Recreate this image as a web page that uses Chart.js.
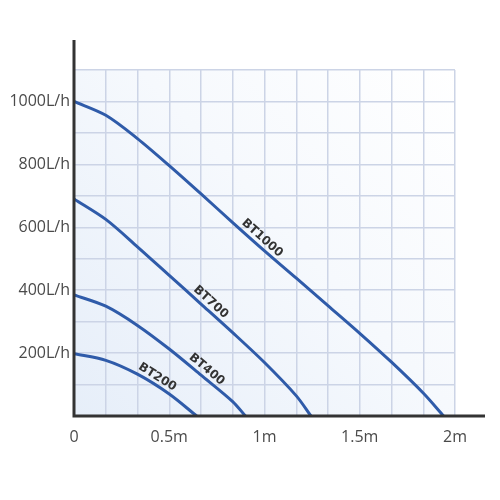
<!DOCTYPE html>
<html>
<head>
<meta charset="utf-8">
<title>BT pump curves</title>
<script src="https://cdn.jsdelivr.net/npm/chart.js@4/dist/chart.umd.min.js"></script>
<style>
  html, body { margin: 0; padding: 0; background: #ffffff; }
  #wrap { width: 500px; height: 500px; }
</style>
</head>
<body>
<div id="wrap"><canvas id="pumpChart" width="500" height="500"></canvas></div>
<script>
// head (m) positions, one array per pump
var seriesNames = ["BT1000", "BT700", "BT400", "BT200"];

var bt1000X = [0, 0.167, 0.333, 0.5, 0.667, 0.833, 1.0, 1.167, 1.333, 1.5, 1.667, 1.833, 1.94];
var bt1000Y = [1000, 956, 882, 796, 706, 615, 525, 438, 351, 263, 171, 73, 0];

var bt700X = [0, 0.167, 0.333, 0.5, 0.667, 0.833, 1.0, 1.167, 1.244];
var bt700Y = [690, 625, 538, 447, 356, 265, 170, 64, 0];

var bt400X = [0, 0.167, 0.333, 0.5, 0.667, 0.833, 0.9];
var bt400Y = [385, 349, 288, 213, 130, 46, 0];

var bt200X = [0, 0.167, 0.333, 0.5, 0.644];
var bt200Y = [198, 177, 133, 70, 0];

// where along each curve (in m) the name sits
var labelAt = [0.96, 0.69, 0.67, 0.415];

var xTickValues = [0, 0.5, 1, 1.5, 2];
var xTickLabels = ["0", "0.5m", "1m", "1.5m", "2m"];
var yTickValues = [200, 400, 600, 800, 1000];
var yTickLabels = ["200L/h", "400L/h", "600L/h", "800L/h", "1000L/h"];

var xMax = 2;
var yMax = 1100;
var lineBlue = "#2f5ba9";

function toPoints(xs, ys) {
  var pts = [];
  for (var i = 0; i < xs.length; i++) {
    pts.push({ x: xs[i], y: ys[i] });
  }
  return pts;
}

var allX = [bt1000X, bt700X, bt400X, bt200X];
var allY = [bt1000Y, bt700Y, bt400Y, bt200Y];

var datasets = seriesNames.map(function(name, i) {
  return {
    label: name,
    data: toPoints(allX[i], allY[i]),
    borderColor: lineBlue,
    borderWidth: 3,
    pointRadius: 0,
    showLine: true,
    fill: false,
    tension: 0.3
  };
});

function findLabel(list, values, v) {
  for (var i = 0; i < values.length; i++) {
    if (Math.abs(values[i] - v) < 1e-6) return list[i];
  }
  return "";
}

// light blue wash behind the grid
var backgroundPlugin = {
  id: "plotBackground",
  beforeDraw: function(chart) {
    var a = chart.chartArea;
    var ctx = chart.ctx;
    var g = ctx.createLinearGradient(a.left, a.bottom, a.right, a.top);
    g.addColorStop(0, "#e6eef9");
    g.addColorStop(0.55, "#f6f9fd");
    g.addColorStop(1, "#ffffff");
    ctx.save();
    ctx.fillStyle = g;
    ctx.fillRect(a.left, a.top, a.right - a.left, a.bottom - a.top);
    ctx.restore();
  }
};

// dark axes that run past the grid, plus the names along the curves
var axesPlugin = {
  id: "axesAndNames",
  afterDatasetsDraw: function(chart) {
    var ctx = chart.ctx;
    var a = chart.chartArea;
    var xs = chart.scales.x;
    var ys = chart.scales.y;

    ctx.save();
    ctx.font = "bold 12px 'DejaVu Sans'";
    ctx.fillStyle = "#333333";
    ctx.textAlign = "center";
    ctx.textBaseline = "middle";
    for (var d = 0; d < seriesNames.length; d++) {
      var xsData = allX[d], ysData = allY[d];
      var target = labelAt[d];
      var k = 0;
      while (k < xsData.length - 2 && xsData[k + 1] < target) k++;
      var x0 = xs.getPixelForValue(xsData[k]), y0 = ys.getPixelForValue(ysData[k]);
      var x1 = xs.getPixelForValue(xsData[k + 1]), y1 = ys.getPixelForValue(ysData[k + 1]);
      var t = (target - xsData[k]) / (xsData[k + 1] - xsData[k]);
      var px = x0 + (x1 - x0) * t;
      var py = y0 + (y1 - y0) * t;
      var ang = Math.atan2(y1 - y0, x1 - x0);
      var off = 8;
      var lx = px + Math.sin(ang) * off;
      var ly = py - Math.cos(ang) * off;
      ctx.save();
      ctx.translate(lx, ly);
      ctx.rotate(ang);
      ctx.fillText(seriesNames[d], 0, 0);
      ctx.restore();
    }
    ctx.restore();

    ctx.save();
    ctx.strokeStyle = "#333333";
    ctx.lineWidth = 3;
    ctx.beginPath();
    ctx.moveTo(a.left, a.top - 30);
    ctx.lineTo(a.left, a.bottom);
    ctx.lineTo(a.right + 30, a.bottom);
    ctx.stroke();
    ctx.restore();
  }
};

var ctx = document.getElementById("pumpChart").getContext("2d");

var pumpChart = new Chart(ctx, {
  type: "scatter",
  data: { datasets: datasets },
  plugins: [backgroundPlugin, axesPlugin],
  options: {
    responsive: false,
    animation: false,
    layout: { padding: { top: 70, right: 45, left: 0, bottom: 0 } },
    plugins: {
      legend: { display: false },
      tooltip: { enabled: false }
    },
    scales: {
      x: {
        type: "linear",
        min: 0,
        max: xMax,
        afterBuildTicks: function(scale) {
          var ticks = [];
          for (var k = 0; k <= 12; k++) ticks.push({ value: k / 6 });
          scale.ticks = ticks;
        },
        afterFit: function(scale) { scale.height = 84; },
        grid: { color: "#ccd4e6", lineWidth: 1.5, drawTicks: false },
        border: { display: false },
        ticks: {
          autoSkip: false,
          maxRotation: 0,
          padding: 12,
          color: "#4a4a4a",
          font: { family: "'Open Sans'", size: 16 },
          callback: function(value) { return findLabel(xTickLabels, xTickValues, value); }
        }
      },
      y: {
        type: "linear",
        min: 0,
        max: yMax,
        afterBuildTicks: function(scale) {
          var ticks = [];
          for (var v = 0; v <= yMax; v += 100) ticks.push({ value: v });
          scale.ticks = ticks;
        },
        afterFit: function(scale) { scale.width = 74; },
        grid: { color: "#ccd4e6", lineWidth: 1.5, drawTicks: false },
        border: { display: false },
        ticks: {
          autoSkip: false,
          padding: 4,
          color: "#4a4a4a",
          font: { family: "'Open Sans'", size: 16 },
          callback: function(value) { return findLabel(yTickLabels, yTickValues, value); }
        }
      }
    }
  }
});
</script>
</body>
</html>
